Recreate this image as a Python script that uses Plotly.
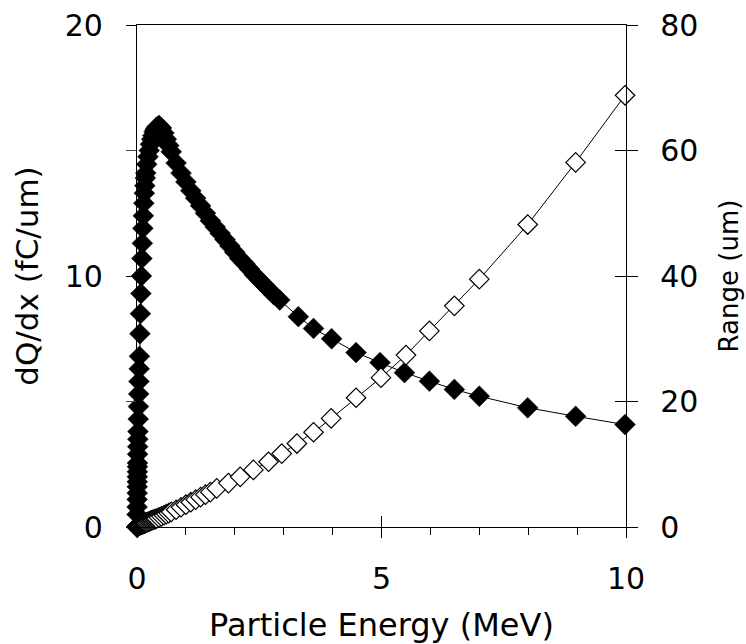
import plotly.graph_objects as go

# ---- dQ/dx series ----
energy_dq = [0.0, 0.001, 0.002, 0.003, 0.004, 0.005, 0.006, 0.007, 0.008, 0.009, 0.010,
             0.0125, 0.015, 0.0175, 0.02, 0.025, 0.03, 0.035, 0.04, 0.045, 0.05,
             0.06, 0.07, 0.08, 0.09, 0.10, 0.11, 0.12, 0.13, 0.14, 0.15, 0.16, 0.17, 0.18,
             0.20, 0.225, 0.25, 0.275, 0.30, 0.325, 0.35, 0.375, 0.40, 0.45, 0.50,
             0.55, 0.60, 0.65, 0.70, 0.80, 0.90, 1.00, 1.10, 1.20, 1.30, 1.40, 1.50,
             1.60, 1.70, 1.80, 1.90, 2.00, 2.10, 2.20, 2.30, 2.40, 2.50, 2.60, 2.70, 2.80,
             2.92, 3.30, 3.61, 3.98, 4.48, 4.97, 5.47, 5.98, 6.49, 7.00, 7.99, 8.97, 9.98]
dqdx = [0.0, 0.5, 0.8, 1.1, 1.35, 1.6, 1.8, 2.0, 2.2, 2.4, 2.55,
        2.9, 3.2, 3.5, 3.8, 4.3, 4.8, 5.3, 5.8, 6.3, 6.8,
        7.7, 8.5, 9.3, 10.0, 10.7, 11.3, 11.9, 12.4, 12.9, 13.3, 13.6, 13.9, 14.1,
        14.45, 14.75, 15.0, 15.25, 15.45, 15.6, 15.75, 15.85, 15.93, 16.0, 15.9,
        15.7, 15.45, 15.2, 14.95, 14.5, 14.1, 13.75, 13.4, 13.1, 12.8, 12.5, 12.2,
        11.95, 11.7, 11.45, 11.2, 10.95, 10.7, 10.5, 10.28, 10.05, 9.85, 9.65, 9.45, 9.25,
        9.04, 8.38, 7.91, 7.5, 6.95, 6.55, 6.15, 5.81, 5.48, 5.21, 4.75, 4.41, 4.08]

# ---- Range series ----
energy_rng = [0.0, 0.001, 0.002, 0.003, 0.004, 0.005, 0.006, 0.007, 0.008, 0.009, 0.010,
              0.0125, 0.015, 0.0175, 0.02, 0.025, 0.03, 0.035, 0.04, 0.045, 0.05,
              0.06, 0.07, 0.08, 0.09, 0.10, 0.11, 0.12, 0.13, 0.14, 0.15, 0.16, 0.17, 0.18,
              0.20, 0.225, 0.25, 0.275, 0.30, 0.325, 0.35, 0.375, 0.40, 0.45, 0.50,
              0.55, 0.60, 0.65, 0.70, 0.80, 0.90, 1.00, 1.10, 1.20, 1.30, 1.40, 1.50,
              1.63, 1.87, 2.11, 2.38, 2.69, 2.96, 3.27, 3.61, 3.97, 4.48, 4.99, 5.50,
              5.98, 6.49, 7.00, 7.99, 8.97, 9.98]
range_um = [0.0, 0.01, 0.02, 0.03, 0.04, 0.05, 0.06, 0.07, 0.07, 0.08, 0.09,
            0.10, 0.12, 0.13, 0.14, 0.17, 0.19, 0.21, 0.23, 0.25, 0.27,
            0.30, 0.34, 0.37, 0.40, 0.43, 0.46, 0.49, 0.52, 0.55, 0.58, 0.61, 0.64, 0.67,
            0.74, 0.82, 0.90, 0.97, 1.05, 1.12, 1.20, 1.27, 1.35, 1.52, 1.70,
            1.87, 2.05, 2.22, 2.40, 2.75, 3.15, 3.55, 3.95, 4.35, 4.75, 5.15, 5.55,
            6.15, 7.0, 8.0, 9.1, 10.4, 11.7, 13.3, 15.1, 17.3, 20.6, 23.8, 27.4,
            31.25, 35.25, 39.5, 48.2, 58.1, 68.8]

x_ticks = [0, 5, 10]
y_left_ticks = [0, 10, 20]
y_right_ticks = [0, 20, 40, 60, 80]

FONT = "DejaVu Sans, Arial, sans-serif"
TICK_SIZE = 30
TITLE_SIZE = 31

fig = go.Figure()
fig.add_trace(go.Scatter(
    x=energy_dq, y=dqdx, mode="lines+markers", name="dQ/dx",
    line=dict(color="black", width=1),
    marker=dict(symbol="diamond", size=16, color="black",
                line=dict(color="black", width=0.5)),
    cliponaxis=False, xaxis="x", yaxis="y"))
fig.add_trace(go.Scatter(
    x=energy_rng, y=range_um, mode="lines+markers", name="Range",
    line=dict(color="black", width=1),
    marker=dict(symbol="diamond", size=15, color="white",
                line=dict(color="black", width=1.2)),
    cliponaxis=False, xaxis="x", yaxis="y2"))
# empty helper traces so the overlay tick axes get drawn
fig.add_trace(go.Scatter(x=[], y=[], xaxis="x2", yaxis="y", showlegend=False))
fig.add_trace(go.Scatter(x=[], y=[], xaxis="x", yaxis="y3", showlegend=False))

axis_common = dict(showgrid=False, zeroline=False, color="black", automargin=False,
                   tickfont=dict(family=FONT, size=TICK_SIZE, color="black"))

fig.update_layout(
    width=746, height=644,
    margin=dict(l=137, r=120, t=25, b=117),
    paper_bgcolor="white", plot_bgcolor="white",
    showlegend=False,
    font=dict(family=FONT, color="black"),
    xaxis=dict(range=[0, 10], tickmode="array", tickvals=x_ticks,
               ticks="outside", ticklen=10, tickwidth=1.3, tickcolor="black",
               minor=dict(dtick=1, ticks="outside", ticklen=7, tickwidth=1.3, tickcolor="black"),
               showline=True, linecolor="black", linewidth=1.3, mirror=True,
               ticklabelstandoff=15,
               title=dict(text="Particle Energy (MeV)", font=dict(family=FONT, size=32), standoff=21),
               **axis_common),
    xaxis2=dict(range=[0, 10], overlaying="x", anchor="y", side="bottom",
                tickmode="array", tickvals=x_ticks, ticks="inside", ticklen=11,
                tickwidth=1.3, tickcolor="black", showticklabels=False, automargin=False,
                showline=False, showgrid=False, zeroline=False),
    yaxis=dict(range=[0, 20], tickmode="array", tickvals=y_left_ticks,
               ticks="outside", ticklen=10, tickwidth=1.3, tickcolor="black",
               minor=dict(dtick=5, ticks="outside", ticklen=10, tickwidth=1, tickcolor="#444"),
               showline=True, linecolor="black", linewidth=1.3,
               ticklabelstandoff=17,
               title=dict(text="dQ/dx (fC/um)", font=dict(family=FONT, size=TITLE_SIZE), standoff=16),
               **axis_common),
    yaxis2=dict(range=[0, 80], overlaying="y", side="right", anchor="x",
                tickmode="array", tickvals=y_right_ticks,
                ticks="outside", ticklen=11, tickwidth=1.3, tickcolor="black",
                showline=True, linecolor="black", linewidth=1.3,
                ticklabelstandoff=16,
                title=dict(text="Range (um)", font=dict(family=FONT, size=26), standoff=22),
                **axis_common),
    yaxis3=dict(range=[0, 80], overlaying="y", side="right", anchor="x",
                tickmode="array", tickvals=y_right_ticks,
                ticks="inside", ticklen=11, tickwidth=1.3, tickcolor="black", automargin=False,
                showticklabels=False, showline=False, showgrid=False, zeroline=False),
)

fig.write_html("out.html")
